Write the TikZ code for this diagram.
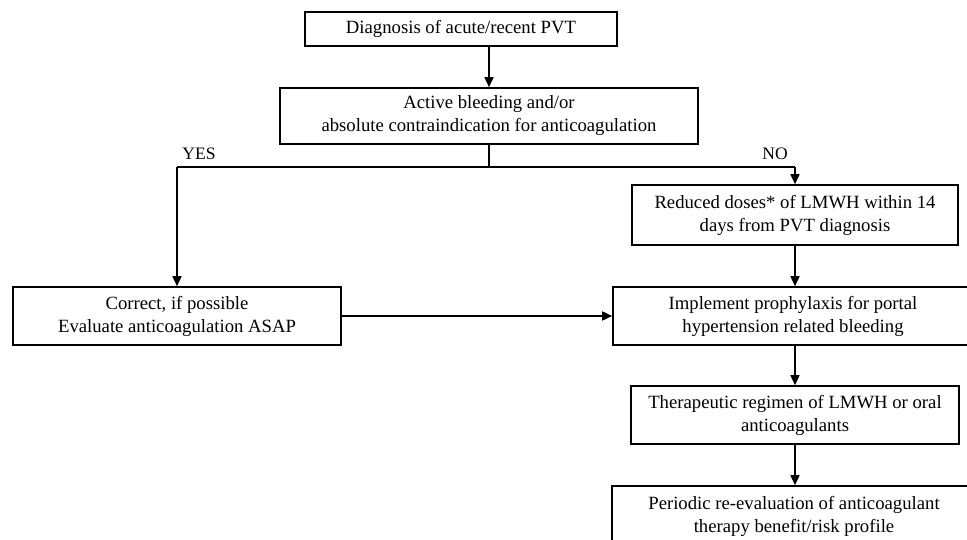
\documentclass[tikz,border=0pt]{standalone}
\usepackage{fontspec}
\setmainfont{Liberation Serif}
\usetikzlibrary{arrows.meta}
\begin{document}
\begin{tikzpicture}[x=1pt,y=-1pt,
  box/.style={draw=black, line width=1.6pt, fill=white, inner sep=0pt, align=center,
    font=\fontsize{18.7}{23}\selectfont},
  conn/.style={line width=1.6pt, draw=black},
  arr/.style={conn, -{Triangle[length=10pt,width=9pt]}},
  lbl/.style={font=\fontsize{17.5}{20}\selectfont, inner sep=0pt}]
\useasboundingbox (0,0) rectangle (967,540);
\clip (0,0) rectangle (967,540);
\node[box, minimum width=312pt, minimum height=34pt] (b1) at (461,29) {Diagnosis of acute/recent PVT};
\node[box, minimum width=418pt, minimum height=56pt] (b2) at (489,116) {Active bleeding and/or\\absolute contraindication for anticoagulation};
\node[box, minimum width=326pt, minimum height=60pt] (b3) at (795,215) {Reduced doses* of LMWH within 14\\days from PVT diagnosis};
\node[box, minimum width=360pt, minimum height=58pt] (b4) at (793,316) {Implement prophylaxis for portal\\hypertension related bleeding};
\node[box, minimum width=328pt, minimum height=58pt] (b5) at (177,316) {Correct, if possible\\Evaluate anticoagulation ASAP};
\node[box, minimum width=328pt, minimum height=58pt] (b6) at (795,415) {Therapeutic regimen of LMWH or oral\\anticoagulants};
\node[box, minimum width=364pt, minimum height=60pt] (b7) at (794,516) {Periodic re-evaluation of anticoagulant\\therapy benefit/risk profile};
\coordinate (j) at (489,167);
\node[lbl] (yes) at (199,154) {YES};
\node[lbl] (no) at (775,154) {NO};
\draw[arr] (b1.south -| b2.north) -- (b2.north);
\draw[conn] (b2.south) -- (j);
\draw[conn] (j -| b5.north) -- (j -| b3.north);
\draw[arr] (j -| b5.north) -- (b5.north);
\draw[arr] (j -| b3.north) -- (b3.north);
\draw[arr] (b3.south) -- (b3.south |- b4.north);
\draw[arr] (b5.east) -- (b5.east -| b4.west);
\draw[arr] (b4.south -| b6.north) -- (b6.north);
\draw[arr] (b6.south) -- (b6.south |- b7.north);
\end{tikzpicture}
\end{document}
